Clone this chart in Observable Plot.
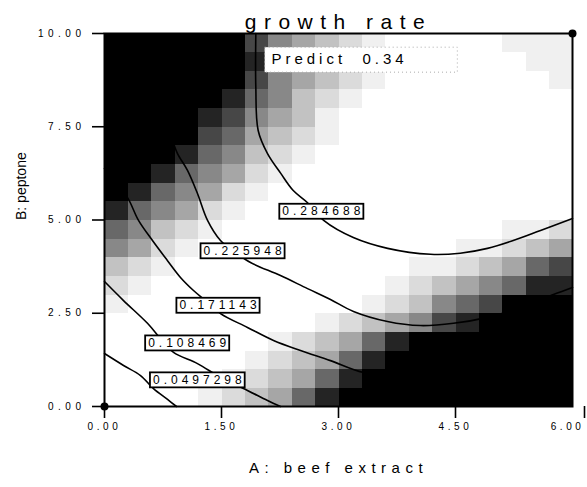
<!DOCTYPE html>
<html>
<head>
<meta charset="utf-8">
<script src="https://cdn.jsdelivr.net/npm/d3@7"></script>
<script src="https://cdn.jsdelivr.net/npm/@observablehq/plot@0.6"></script>
<style>
  body { margin: 0; background: #ffffff; }
  #chart svg { display: block; }
  g[aria-label="x-axis tick label"] { letter-spacing: 3.6px; }
  g[aria-label="y-axis tick label"] { letter-spacing: 4.5px; }
  g[aria-description="clabel"] text { letter-spacing: 4px; }
  g[aria-description="title"] text { letter-spacing: 7.5px; }
  g[aria-description="xlabel"] text { letter-spacing: 5.5px; }
  g[aria-description="predict"] text { letter-spacing: 4px; }
</style>
</head>
<body>
<div id="chart"></div>
<script>
// ---- data ----
const titleText = "growth rate";
const xLabelText = "A: beef extract";
const yLabelText = "B: peptone";
const xTicks = [0, 1.5, 3, 4.5];
const xTickLast = [6];
const yTicks = [0, 2.5, 5, 7.5, 10];

// background shading (0 = white ... 9 = black), 20 x 20 cells, top row first
const shadeRows = [
  "99999975432100000111",
  "99999986542100000011",
  "99999975432100000001",
  "99999865321000000000",
  "99998754310000000000",
  "99997643210000000000",
  "99986532100000000000",
  "99865421000000000000",
  "98654210000000000000",
  "86542100000000000000",
  "65321000000000000112",
  "54210000000000011234",
  "32100000000001123467",
  "21000000000012345688",
  "10000000000123567999",
  "00000000012345789999",
  "00000001234689999999",
  "00000012346899999999",
  "00000123468999999999",
  "00001234689999999999"
];

// contour lines [A, B]
const c284688 = [[1.94,10],[1.94,8.55],[1.97,7.40],[2.09,6.78],[2.26,6.25],[2.42,5.79],[2.60,5.47],[2.81,4.99],[3.19,4.53],[3.63,4.24],[4.18,4.08],[4.56,4.11],[4.91,4.24],[5.24,4.45],[5.59,4.72],[6.0,5.04]];
const c225948 = [[0.872,7.13],[0.936,6.78],[1.064,6.33],[1.192,5.71],[1.321,4.99],[1.487,4.45],[1.679,4.13],[1.872,3.86],[2.256,3.51],[2.603,3.16],[2.897,2.87],[3.192,2.55],[3.628,2.28],[4.051,2.17],[4.474,2.23],[4.910,2.39],[5.333,2.65],[5.756,3.00],[6.0,3.19]];
const c171143 = [[0,6.38],[0.141,5.98],[0.295,5.60],[0.436,4.99],[0.615,4.45],[0.808,3.91],[0.974,3.46],[1.141,3.11],[1.295,2.84],[1.487,2.49],[1.833,2.12],[2.167,1.77],[2.513,1.50],[2.897,1.23],[3.321,0.91],[4.051,0.75]];
const c108469 = [[0,3.35],[0.244,2.84],[0.551,2.23],[0.718,1.82],[0.885,1.45],[1.192,1.15],[1.487,0.78],[1.833,0.43],[2.090,0.16],[2.256,0]];
const c0497298 = [[0,1.42],[0.244,1.10],[0.462,0.83],[0.628,0.48],[0.808,0.19],[0.923,0]];

// contour labels
const labelTexts = ["0.284688", "0.225948", "0.171143", "0.108469", "0.0497298"];
const labelA = [2.78, 1.77, 1.455, 1.06, 1.19];
const labelB = [5.23, 4.17, 2.71, 1.70, 0.71];

// design points
const designPoints = [[0, 0], [6, 10]];

// prediction annotation
const predictText = "Predict \u00a00.34";
const predictBox = {a1: 2.06, a2: 4.53, b1: 8.95, b2: 9.62};
const predictPos = [2.14, 9.30];

// ---- build ----
const shadeValues = shadeRows.flatMap(r => r.split("").map(Number));
const labels = labelTexts.map((t, i) => ({t, a: labelA[i], b: labelB[i]}));
const contours = [c284688, c225948, c171143, c108469, c0497298];

const fmt = d3.format(".2f");

const chart = Plot.plot({
  width: 587,
  height: 487,
  marginLeft: 104,
  marginRight: 15,
  marginTop: 33,
  marginBottom: 81,
  style: {fontFamily: "'Liberation Sans', Arial, sans-serif", fontSize: "10px", background: "#ffffff", color: "#000"},
  x: {domain: [0, 6]},
  y: {domain: [0, 10]},
  color: {type: "pow", exponent: 1.3, domain: [0, 9], range: ["#ffffff", "#000000"]},
  marks: [
    Plot.raster(shadeValues, {width: 20, height: 20, x1: 0, x2: 6, y1: 10, y2: 0, fill: d => d, imageRendering: "pixelated"}),
    Plot.rect([predictBox], {x1: "a1", x2: "a2", y1: "b1", y2: "b2", fill: "#ffffff", stroke: "#aaaaaa", strokeWidth: 1, strokeDasharray: "1,3"}),
    Plot.text([predictText], {x: predictPos[0], y: predictPos[1], text: d => d, textAnchor: "start", lineAnchor: "middle", fontSize: 15, fill: "#000", ariaDescription: "predict"}),
    ...contours.map(c => Plot.line(c, {x: d => d[0], y: d => d[1], stroke: "#000", strokeWidth: 1.6, curve: "catmull-rom"})),
    Plot.text(labels, {x: "a", y: "b", text: "t", fontSize: 12, fill: "#000", dx: 2, lineAnchor: "middle", ariaDescription: "clabel"}),
    Plot.frame({stroke: "#000", strokeWidth: 2}),
    Plot.axisX({ticks: xTicks, tickSize: 12, tickPadding: 4, tickFormat: fmt, label: null, strokeWidth: 1.6, dx: 0, fontSize: 10}),
    Plot.axisX({ticks: xTickLast, tickSize: 12, tickPadding: 4, tickFormat: fmt, label: null, strokeWidth: 1.6, textAnchor: "end", dx: 12, fontSize: 10}),
    Plot.axisY({ticks: yTicks, tickSize: 12, tickPadding: 7, tickFormat: fmt, label: null, strokeWidth: 1.6, fontSize: 10}),
    Plot.dot(designPoints, {x: d => d[0], y: d => d[1], r: 4, fill: "#000"}),
    Plot.text([titleText], {frameAnchor: "top", lineAnchor: "middle", text: d => d, dy: -11, fontSize: 21, fill: "#000", ariaDescription: "title"}),
    Plot.text([xLabelText], {frameAnchor: "bottom", lineAnchor: "middle", text: d => d, dy: 62, fontSize: 15, fill: "#000", ariaDescription: "xlabel"}),
    Plot.text([yLabelText], {frameAnchor: "left", lineAnchor: "middle", text: d => d, dx: -83, rotate: -90, fontSize: 14, fill: "#000", fontFamily: "'Liberation Sans Narrow', 'Liberation Sans', Arial, sans-serif", ariaDescription: "ylabel"})
  ]
});

document.getElementById("chart").appendChild(chart);

// white boxes with black border behind contour labels
const s = 4;
chart.querySelectorAll('g[aria-description="clabel"] text').forEach(t => {
  const bb = t.getBBox();
  const cy = bb.y + bb.height / 2;
  const r = document.createElementNS("http://www.w3.org/2000/svg", "rect");
  r.setAttribute("x", bb.x - 3);
  r.setAttribute("y", cy - 7.5);
  r.setAttribute("width", bb.width - s + 6);
  r.setAttribute("height", 15);
  r.setAttribute("fill", "#ffffff");
  r.setAttribute("stroke", "#000");
  r.setAttribute("stroke-width", "1.8");
  const tr = t.getAttribute("transform");
  if (tr) r.setAttribute("transform", tr);
  t.parentNode.insertBefore(r, t);
});
</script>
</body>
</html>
